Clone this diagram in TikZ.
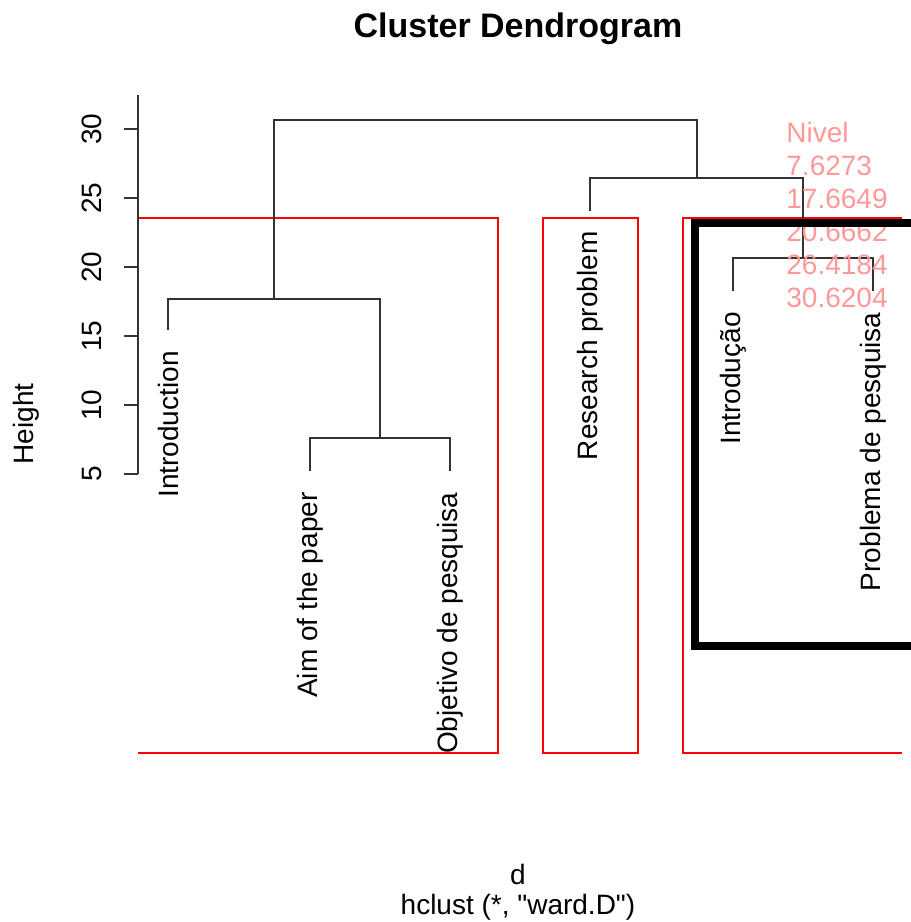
\documentclass[tikz,border=0pt]{standalone}
\usepackage{fontspec}
\setmainfont{Liberation Sans}
% straight double quote, bypassing the TeX text mapping
\newcommand\straightdq{\XeTeXglyph\XeTeXcharglyph"22\relax}
\begin{document}
\begin{tikzpicture}[x=0.5pt,y=-0.5pt,
  branch/.style={draw=black!80,line width=1pt},
  cutbox/.style={draw=red,line width=0.75pt},
  axisline/.style={draw=black!80,line width=1pt},
  leaflabel/.style={rotate=90,anchor=east,inner sep=0pt,font=\fontsize{14}{16}\selectfont},
  ticklabel/.style={rotate=90,anchor=center,inner sep=0pt,font=\fontsize{14}{16}\selectfont},
  levelnote/.style={anchor=base west,inner sep=0pt,text=red!40,font=\fontsize{14}{16}\selectfont},
  plain/.style={inner sep=0pt,font=\fontsize{14}{16}\selectfont}]
\useasboundingbox (0,0) rectangle (911,922);

% title
\node[inner sep=0pt,font=\fontsize{17}{20}\selectfont\bfseries] (title) at (518,29) {Cluster Dendrogram};

% cut rectangles (clipped at the plot region)
\draw[cutbox] (138,218) -- (498,218) -- (498,753) -- (138,753);
\draw[cutbox] (543,218) rectangle (638,753);
\draw[cutbox] (902,218) -- (683,218) -- (683,753) -- (902,753);

% leaf ends
\coordinate (tIntro) at (168,330);
\coordinate (tAim)   at (310,471);
\coordinate (tObj)   at (450,471);
\coordinate (tRes)   at (590,211);
\coordinate (tIntPt) at (733,291);
\coordinate (tProb)  at (873,291);

% merge points (height h -> y = 543 - 13.8 h)
\coordinate (mAO)  at (380,437.7);   % 7.6273
\coordinate (mL)   at (274,299.2);   % 17.6649
\coordinate (mIP)  at (803,257.8);   % 20.6662
\coordinate (mR)   at (696.5,178.4); % 26.4184
\coordinate (mTop) at (485,120.4);   % 30.6204

% dendrogram branches
\draw[branch] (tAim) |- (mAO) -| (tObj);
\draw[branch] (tIntro) |- (mL) -| (mAO);
\draw[branch] (tIntPt) |- (mIP) -| (tProb);
\draw[branch] (tRes) |- (mR) -| (mIP);
\draw[branch] (mL) |- (mTop) -| (mR);

% leaf labels
\node[leaflabel] (lIntro) at (168,351) {Introduction};
\node[leaflabel] (lAim)   at (310,492) {Aim of the paper};
\node[leaflabel] (lObj)   at (450,492) {Objetivo de pesquisa};
\node[leaflabel] (lRes)   at (590,231) {Research problem};
\node[leaflabel] (lIntPt) at (733,312) {Introdução};
\node[leaflabel] (lProb)  at (873,312) {Problema de pesquisa};

% y axis
\draw[axisline] (138,95) -- (138,474);
\foreach \h/\yy in {5/474,10/405,15/336,20/267,25/198,30/129}{
  \draw[axisline] (124,\yy) -- (138,\yy);
  \node[ticklabel] (tk\h) at (92,\yy) {\h};
}
\node[ticklabel] (ylab) at (26,424) {Height};

% bottom labels
\node[plain,anchor=base] (xlab) at (518,884) {d};
\node[plain,anchor=base] (sub) at (518,914) {hclust (*, \straightdq ward.D\straightdq)};

% level legend
\node[levelnote] (n0) at (786,142) {Nivel};
\node[levelnote] (n1) at (786,175) {7.6273};
\node[levelnote] (n2) at (786,208) {17.6649};
\node[levelnote] (n3) at (786,241) {20.6662};
\node[levelnote] (n4) at (786,274) {26.4184};
\node[levelnote] (n5) at (786,307) {30.6204};

% highlighted group
\draw[line width=4pt,line join=miter] (911,223) -- (695,223) -- (695,646) -- (911,646);
\end{tikzpicture}
\end{document}
